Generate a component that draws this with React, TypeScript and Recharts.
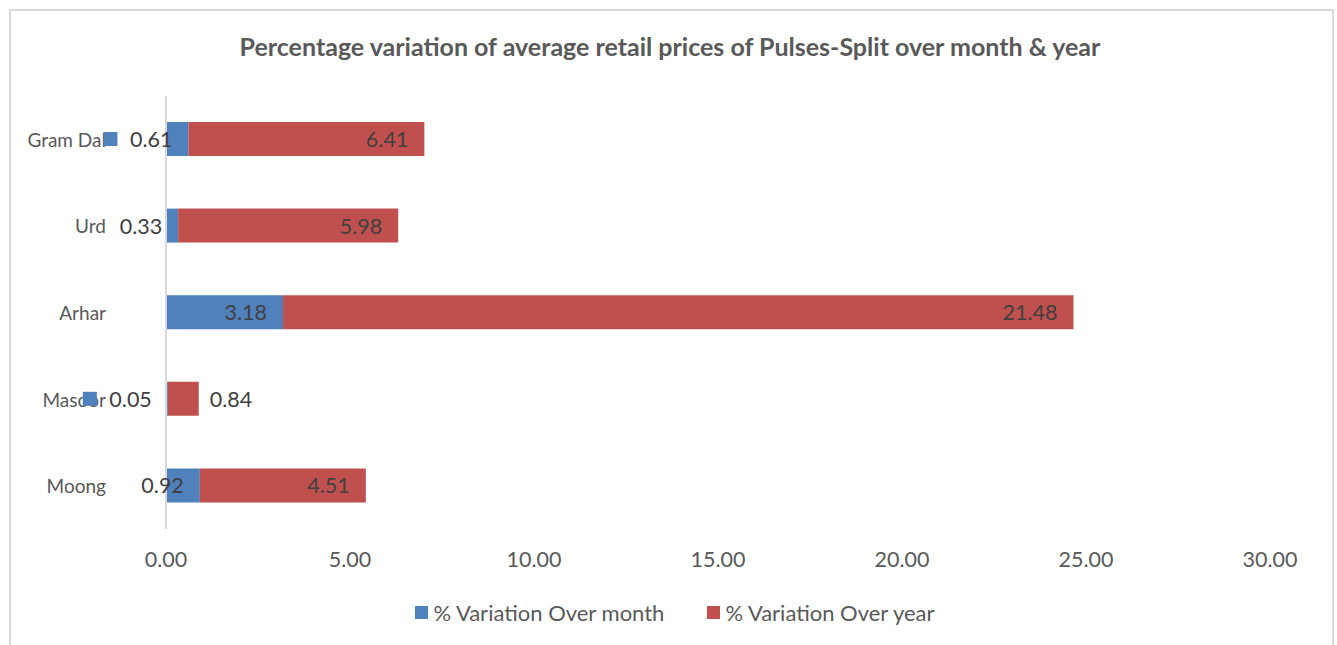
import { BarChart, Bar, XAxis, YAxis, LabelList } from 'recharts'

const categories = ['Gram Dal', 'Urd', 'Arhar', 'Masoor', 'Moong']
const overMonth = [0.61, 0.33, 3.18, 0.05, 0.92]
const overYear = [6.41, 5.98, 21.48, 0.84, 4.51]
const xTicks = [0, 5, 10, 15, 20, 25, 30]
// Excel showed the legend key next to these two month labels
const keyedLabels = ['Gram Dal', 'Masoor']

const data = categories.map((name, i) => ({
  name,
  month: overMonth[i],
  year: overYear[i],
}))

const BLUE = '#4f81bd'
const RED = '#c0504d'
const FONT = 'Lato, "Open Sans", sans-serif'
const LABEL_SIZE = 21.5

// rough text width for Lato digits
const textWidth = (s: string, size: number) =>
  s.split('').reduce((w, c) => w + (c === '.' ? 0.26 : 0.58) * size, 0)

const MonthLabel = (props: any) => {
  const { x, y, width, height, value, index } = props
  const label = Number(value).toFixed(2)
  const end = x + width - 16
  const cy = y + height / 2
  const showKey = keyedLabels.includes(categories[index])
  const w = textWidth(label, LABEL_SIZE)
  return (
    <g>
      {showKey && (
        <rect x={end - w - 12 - 14} y={cy - 7} width={14} height={14} fill={BLUE} />
      )}
      <text x={end} y={cy} textAnchor="end" dominantBaseline="central" fontSize={LABEL_SIZE} fill="#404040" fontFamily={FONT}>
        {label}
      </text>
    </g>
  )
}

const YearLabel = (props: any) => {
  const { x, y, width, height, value } = props
  const label = Number(value).toFixed(2)
  const cy = y + height / 2
  const outside = width < 60
  return (
    <text
      x={outside ? x + width + 11 : x + width - 16}
      y={cy}
      textAnchor={outside ? 'start' : 'end'}
      dominantBaseline="central"
      fontSize={LABEL_SIZE}
      fill="#404040"
      fontFamily={FONT}
    >
      {label}
    </text>
  )
}

const CategoryTick = (props: any) => {
  const { x, y, payload } = props
  return (
    <text x={x} y={y} textAnchor="end" dominantBaseline="central" fontSize={19} fill="#595959" fontFamily={FONT}>
      {payload.value}
    </text>
  )
}

const legendItems = [
  { name: '% Variation Over month', color: BLUE },
  { name: '% Variation Over year', color: RED },
]

export default function App() {
  return (
    <div style={{ position: 'absolute', left: 0, top: 0, width: 1337, height: 645, overflow: 'hidden', background: '#fff' }}>
      <div
        style={{
          position: 'absolute',
          left: 9,
          top: 9,
          width: 1321,
          height: 650,
          borderTop: '2px solid #d9d9d9',
          borderLeft: '2px solid #d9d9d9',
          borderRight: '2px solid #d9d9d9',
        }}
      />
      <div
        style={{
          position: 'absolute',
          left: 0,
          top: 31,
          width: 1340,
          textAlign: 'center',
          fontFamily: FONT,
          fontWeight: 700,
          fontSize: 25,
          color: '#595959',
        }}
      >
        Percentage variation of average retail prices of Pulses-Split over month &amp; year
      </div>
      <div style={{ position: 'absolute', left: 0, top: 0 }}>
        <BarChart
          width={1337}
          height={645}
          data={data}
          layout="vertical"
          barSize={34}
          margin={{ top: 96, right: 67, bottom: 86, left: 6 }}
        >
          <XAxis
            type="number"
            domain={[0, 30]}
            ticks={xTicks}
            tickFormatter={(v: number) => v.toFixed(2)}
            axisLine={false}
            tickLine={false}
            tickSize={0}
            tickMargin={23}
            height={30}
            tick={{ fontSize: 21.5, fill: '#595959', fontFamily: FONT }}
            interval={0}
          />
          <YAxis
            type="category"
            dataKey="name"
            width={160}
            axisLine={{ stroke: '#d9d9d9', strokeWidth: 2 }}
            tickLine={false}
            tickSize={0}
            tickMargin={60}
            tick={<CategoryTick />}
            interval={0}
          />
          <Bar dataKey="month" name="% Variation Over month" stackId="a" fill={BLUE} isAnimationActive={false}>
            <LabelList dataKey="month" content={<MonthLabel />} />
          </Bar>
          <Bar dataKey="year" name="% Variation Over year" stackId="a" fill={RED} isAnimationActive={false}>
            <LabelList dataKey="year" content={<YearLabel />} />
          </Bar>
        </BarChart>
      </div>
      <div
        style={{
          position: 'absolute',
          left: 0,
          top: 599,
          width: 1350,
          display: 'flex',
          justifyContent: 'center',
          alignItems: 'center',
          fontFamily: FONT,
          fontSize: 22,
          color: '#595959',
        }}
      >
        {legendItems.map((item, i) => (
          <span key={item.name} style={{ display: 'flex', alignItems: 'center', marginRight: i === 0 ? 43 : 0 }}>
            <span style={{ display: 'inline-block', width: 13, height: 13, background: item.color, marginRight: 5 }} />
            {item.name}
          </span>
        ))}
      </div>
    </div>
  )
}
